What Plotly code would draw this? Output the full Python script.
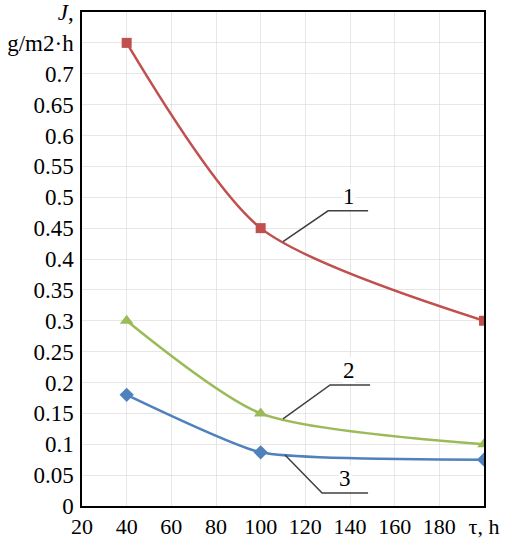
import plotly.graph_objects as go

hours = [40, 100, 200]
series1 = [0.75, 0.45, 0.30]
series2 = [0.30, 0.15, 0.10]
series3 = [0.18, 0.087, 0.075]

x_ticks = [20, 40, 60, 80, 100, 120, 140, 160, 180, 200]
x_tick_text = ["20", "40", "60", "80", "100", "120", "140", "160", "180", "τ, h"]
y_ticks = [0, 0.05, 0.1, 0.15, 0.2, 0.25, 0.3, 0.35, 0.4, 0.45, 0.5, 0.55, 0.6, 0.65, 0.7, 0.75, 0.8]
y_tick_text = ["0", "0.05", "0.1", "0.15", "0.2", "0.25", "0.3", "0.35", "0.4", "0.45",
               "0.5", "0.55", "0.6", "0.65", "0.7", "g/m2·h", "<i>J</i>,"]

labels = ["1", "2", "3"]
leader_x = [[110, 130.2, 148.1], [110, 131.1, 149], [110.9, 127.5, 148.1]]
leader_y = [[0.428, 0.478, 0.478], [0.141, 0.196, 0.196], [0.0826, 0.021, 0.021]]
label_pos = [(139.6, 0.478), (139.6, 0.196), (137.8, 0.021)]

FONT = "Liberation Serif"

fig = go.Figure()
fig.add_trace(go.Scatter(x=hours, y=series1, mode="lines+markers",
                         line=dict(color="#C0504D", width=2.5, shape="spline", smoothing=0.75),
                         marker=dict(symbol="square", size=10, color="#C0504D")))
fig.add_trace(go.Scatter(x=hours, y=series2, mode="lines+markers",
                         line=dict(color="#9BBB59", width=2.5, shape="spline", smoothing=0.7),
                         marker=dict(symbol="triangle-up", size=12, color="#9BBB59")))
fig.add_trace(go.Scatter(x=hours, y=series3, mode="lines+markers",
                         line=dict(color="#4F81BD", width=2.5, shape="spline", smoothing=0.5),
                         marker=dict(symbol="diamond", size=11, color="#4F81BD")))

for lx, ly in zip(leader_x, leader_y):
    fig.add_trace(go.Scatter(x=lx, y=ly, mode="lines",
                             line=dict(color="#404040", width=1.5), hoverinfo="skip"))

for lab, (px, py) in zip(labels, label_pos):
    fig.add_annotation(x=px, y=py, text=lab, showarrow=False, xref="x", yref="y",
                       yanchor="bottom", yshift=1, borderpad=0,
                       font=dict(family=FONT, size=23, color="black"),
                       bgcolor="white")

fig.update_layout(
    width=506, height=538,
    margin=dict(l=82, r=22, t=12, b=32),
    paper_bgcolor="white", plot_bgcolor="white",
    showlegend=False,
    font=dict(family=FONT, size=23, color="black"),
)
fig.update_xaxes(range=[20, 200], tickvals=x_ticks, ticktext=x_tick_text,
                 showgrid=True, gridcolor="rgba(215,215,215,0.6)", gridwidth=1,
                 showline=True, linecolor="black", linewidth=1.5, mirror=True,
                 ticks="", zeroline=False, tickfont=dict(family=FONT, size=22),
                 ticklabelstandoff=0, automargin=False)
fig.update_yaxes(range=[0, 0.8], tickvals=y_ticks, ticktext=y_tick_text,
                 showgrid=True, gridcolor="rgba(215,215,215,0.6)", gridwidth=1,
                 showline=True, linecolor="black", linewidth=1.5, mirror=True,
                 ticks="", zeroline=False, tickfont=dict(family=FONT, size=23),
                 ticklabelstandoff=2, automargin=False)

fig.write_html("out.html", config={"displayModeBar": False},
               post_script="document.body.style.margin='0px';")
